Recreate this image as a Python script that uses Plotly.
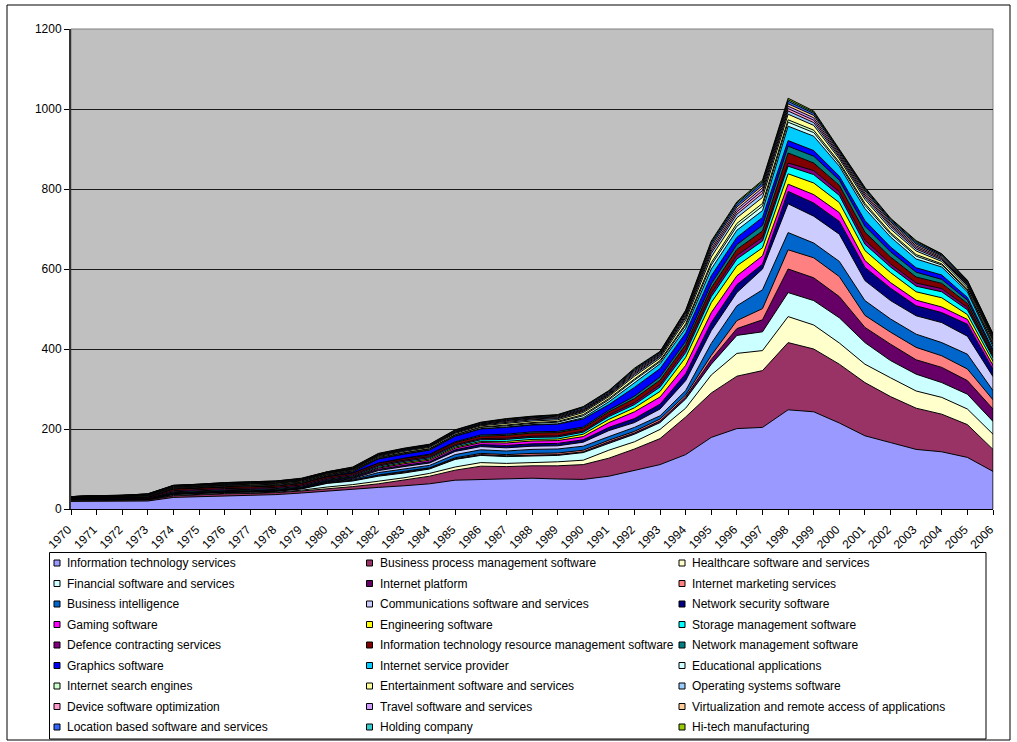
import plotly.graph_objects as go

years = list(range(1970, 2007))

series_names = [
    "Information technology services",
    "Business process management software",
    "Healthcare software and services",
    "Financial software and services",
    "Internet platform",
    "Internet marketing services",
    "Business intelligence",
    "Communications software and services",
    "Network security software",
    "Gaming software",
    "Engineering software",
    "Storage management software",
    "Defence contracting services",
    "Information technology resource management software",
    "Network management software",
    "Graphics software",
    "Internet service provider",
    "Educational applications",
    "Internet search engines",
    "Entertainment software and services",
    "Operating systems software",
    "Device software optimization",
    "Travel software and services",
    "Virtualization and remote access of applications",
    "Location based software and services",
    "Holding company",
    "Hi-tech manufacturing",
]

series_colors = [
    "#9999FF", "#993366", "#FFFFCC", "#CCFFFF", "#660066", "#FF8080",
    "#0066CC", "#CCCCFF", "#000080", "#FF00FF", "#FFFF00", "#00FFFF",
    "#800080", "#800000", "#008080", "#0000FF", "#00CCFF", "#CCFFFF",
    "#CCFFCC", "#FFFF99", "#99CCFF", "#FF99CC", "#CC99FF", "#FFCC99",
    "#3366FF", "#33CCCC", "#99CC00",
]

# one value per year, 1970 .. 2006
it_services = [19,19,19,20,29,31,33,34,36,40,45,49,54,58,63,72,74,76,77,75,74,82,96,111,136,179,201,204,248,243,215,183,166,149,143,129,94]
bpm_software = [2,2,2,2,4,5,5,5,5,5,5,7,9,14,19,25,33,30,31,33,37,45,54,65,94,111,131,142,168,157,147,133,115,103,94,82,55]
healthcare = [1,1,1,1,1,1,1,1,1,2,5,5,7,6,7,8,9,8,8,10,11,20,18,23,22,45,57,50,65,60,53,46,47,43,42,39,38]
financial = [1,1,1,1,2,2,2,2,2,3,9,9,12,12,11,19,18,17,17,16,19,18,19,17,23,27,45,47,60,61,63,54,43,42,37,37,32]
internet_platform = [1,1,1,1,2,2,2,2,2,2,2,2,2,2,2,2,2,2,2,2,2,3,3,4,5,12,17,30,59,57,53,38,41,36,38,34,31]
internet_marketing = [0,0,0,0,0,0,0,0,0,0,0,0,1,2,1,2,3,3,4,4,4,4,4,5,5,10,20,28,48,50,50,30,30,31,29,29,23]
business_intelligence = [0,0,0,0,0,0,0,0,0,0,1,2,6,6,6,8,9,9,10,10,10,9,10,8,11,30,37,47,43,37,38,37,33,33,33,37,23]
communications = [0,0,0,0,0,0,0,0,0,0,1,2,5,6,6,8,8,8,8,8,10,15,12,17,25,32,33,52,72,67,68,50,46,46,50,45,35]
network_security = [2,2,2,2,3,3,3,3,3,3,3,3,3,3,3,4,5,6,6,6,6,8,10,12,17,20,20,12,31,33,32,33,31,25,25,30,18]
gaming = [0,0,0,0,0,0,0,0,0,0,1,1,3,4,4,4,5,6,7,7,8,12,17,18,21,25,22,21,18,21,22,17,14,14,14,12,10]
engineering = [0,0,0,0,0,0,0,0,0,0,0,1,2,3,3,3,3,4,4,4,6,8,10,14,20,25,25,20,26,29,25,25,25,21,23,12,10]
storage_mgmt = [0,0,0,0,2,2,2,2,2,2,2,2,3,3,3,3,4,5,5,5,5,7,8,11,12,15,17,17,19,21,18,16,14,14,15,12,9]
defence = [2,2,2,2,3,3,3,3,3,3,3,3,3,3,3,3,3,3,3,3,3,4,5,6,8,8,9,9,8,10,9,10,8,8,8,6,4]
it_resource_mgmt = [2,2,2,2,4,4,4,4,4,4,4,4,4,4,4,5,6,7,8,8,7,8,10,11,12,14,15,16,25,19,16,20,17,15,13,10,6]
network_mgmt = [0,0,0,0,0,0,0,0,0,0,0,0,1,1,2,2,3,3,3,3,3,4,6,8,8,10,12,14,17,17,13,15,13,12,10,8,5]
graphics = [0,0,0,0,1,1,1,1,1,1,2,3,10,10,10,14,15,17,17,18,20,14,22,21,21,20,18,20,14,14,10,14,12,11,11,7,5]
isp = [0,0,0,0,0,0,0,0,0,0,0,0,1,1,1,1,1,1,1,1,3,7,12,12,12,17,18,17,36,36,25,30,25,22,20,14,8]
educational = [0,1,1,1,1,1,2,2,2,2,2,2,2,2,2,2,3,3,3,4,5,5,6,5,7,10,10,11,10,9,6,8,7,7,5,4,5]
search_engines = [0,0,0,1,1,1,1,1,1,1,1,1,1,1,1,1,1,2,2,2,3,3,3,3,4,6,7,7,6,6,4,5,4,4,3,3,3]
entertainment = [1,1,1,1,1,1,1,2,2,2,2,2,2,3,3,3,3,4,4,4,5,5,7,6,9,14,14,15,14,12,8,10,9,9,6,5,6]
operating_systems = [0,1,1,1,1,1,1,1,1,1,1,1,2,2,2,2,2,3,3,3,3,3,4,4,6,9,9,10,8,7,5,6,6,5,4,4,4]
device_optimization = [0,0,0,0,1,1,1,1,1,1,1,1,1,1,1,1,1,2,2,2,2,2,3,2,4,6,6,7,6,6,4,5,4,4,3,2,3]
travel = [0,0,0,1,1,1,1,1,1,1,1,1,1,1,1,1,1,2,2,2,2,2,3,3,4,6,6,7,6,6,4,5,4,4,3,3,3]
virtualization = [0,0,0,0,1,1,1,1,1,1,1,1,1,1,1,1,1,1,1,2,2,2,3,2,4,6,6,6,6,6,4,5,4,4,3,2,3]
location_based = [0,0,1,1,1,1,1,1,1,1,0,1,1,1,1,2,2,2,2,2,3,3,3,3,3,6,6,6,6,5,4,4,4,4,3,3,2]
holding_company = [0,0,0,1,0,0,1,1,1,1,1,1,1,1,1,1,1,1,1,1,2,2,2,2,2,4,4,4,4,3,2,3,3,3,2,2,2]
hitech_manufacturing = [0,0,0,0,0,0,0,0,0,1,0,1,1,1,1,1,1,1,1,1,1,1,2,1,2,3,3,3,4,3,2,2,2,2,1,1,1]

series_values = [
    it_services, bpm_software, healthcare, financial, internet_platform,
    internet_marketing, business_intelligence, communications, network_security,
    gaming, engineering, storage_mgmt, defence, it_resource_mgmt, network_mgmt,
    graphics, isp, educational, search_engines, entertainment, operating_systems,
    device_optimization, travel, virtualization, location_based, holding_company,
    hitech_manufacturing,
]

y_ticks = [0, 200, 400, 600, 800, 1000, 1200]

FONT = "Liberation Sans, Arial, sans-serif"

fig = go.Figure()

# stacked areas, first series at the bottom
for name, color, vals in zip(series_names, series_colors, series_values):
    fig.add_trace(go.Scatter(
        x=years, y=vals, name=name, mode="lines",
        stackgroup="industries",
        line=dict(color="black", width=1),
        fillcolor=color,
        showlegend=False,
        hovertemplate="%{x}: %{y}<extra>" + name + "</extra>",
    ))

W, H = 1017, 742
L, R, T, B = 71, 24, 29, 233
pw = W - L - R
ph = H - T - B


def px_x(x):
    return (x - L) / pw


def px_y(y):
    return (H - B - y) / ph


shapes = [
    # plot area frame (sits under the gridlines)
    dict(type="rect", xref="paper", yref="paper", x0=0, x1=1, y0=0, y1=1,
         line=dict(color="#808080", width=1), layer="below"),
    # closing edge of the stack at the last year
    dict(type="line", xref="x", yref="y",
         x0=years[-1], x1=years[-1], y0=0,
         y1=sum(vals[-1] for vals in series_values),
         line=dict(color="black", width=1), layer="above"),
    # chart area frame
    dict(type="rect", xref="paper", yref="paper",
         x0=px_x(7), x1=px_x(1010), y0=px_y(740), y1=px_y(5),
         line=dict(color="black", width=1), layer="below"),
    # legend box
    dict(type="rect", xref="paper", yref="paper",
         x0=px_x(49.5), x1=px_x(986), y0=px_y(739), y1=px_y(552.5),
         line=dict(color="black", width=1), fillcolor="white", layer="below"),
]
annotations = []

# legend: three columns, filled row by row
col_x = [54, 366.5, 679]
row_y0, row_step = 563, 20.5
for i, (name, color) in enumerate(zip(series_names, series_colors)):
    r, c = divmod(i, 3)
    cx = col_x[c]
    cy = row_y0 + r * row_step
    shapes.append(dict(
        type="rect", xref="paper", yref="paper",
        x0=px_x(cx), x1=px_x(cx + 6), y0=px_y(cy + 3), y1=px_y(cy - 3),
        fillcolor=color, line=dict(color="black", width=1), layer="above",
    ))
    annotations.append(dict(
        xref="paper", yref="paper", x=px_x(cx + 11), y=px_y(cy),
        xanchor="left", yanchor="middle", showarrow=False,
        text=name, font=dict(family=FONT, size=12, color="black"),
    ))

fig.update_layout(
    width=W, height=H,
    margin=dict(l=L, r=R, t=T, b=B),
    paper_bgcolor="white",
    plot_bgcolor="#C0C0C0",
    font=dict(family=FONT, size=12, color="black"),
    showlegend=False,
    xaxis=dict(
        range=[1970, 2006],
        tickmode="array", tickvals=years, ticktext=[str(y) for y in years],
        tickangle=-45,
        ticks="outside", ticklen=5, tickcolor="black",
        ticklabelstandoff=3, ticklabelshift=-3,
        showgrid=False, zeroline=False,
        showline=True, linecolor="black", linewidth=1,
        tickfont=dict(family=FONT, size=12, color="black"),
    ),
    yaxis=dict(
        range=[0, 1200],
        tickmode="array", tickvals=y_ticks, ticktext=[str(v) for v in y_ticks],
        ticks="outside", ticklen=5, tickcolor="black",
        showgrid=True, gridcolor="#1a1a1a", gridwidth=1,
        zeroline=False,
        showline=True, linecolor="#333333", linewidth=2,
        tickfont=dict(family=FONT, size=12, color="black"),
    ),
    shapes=shapes,
    annotations=annotations,
)

fig.write_html("out.html")
